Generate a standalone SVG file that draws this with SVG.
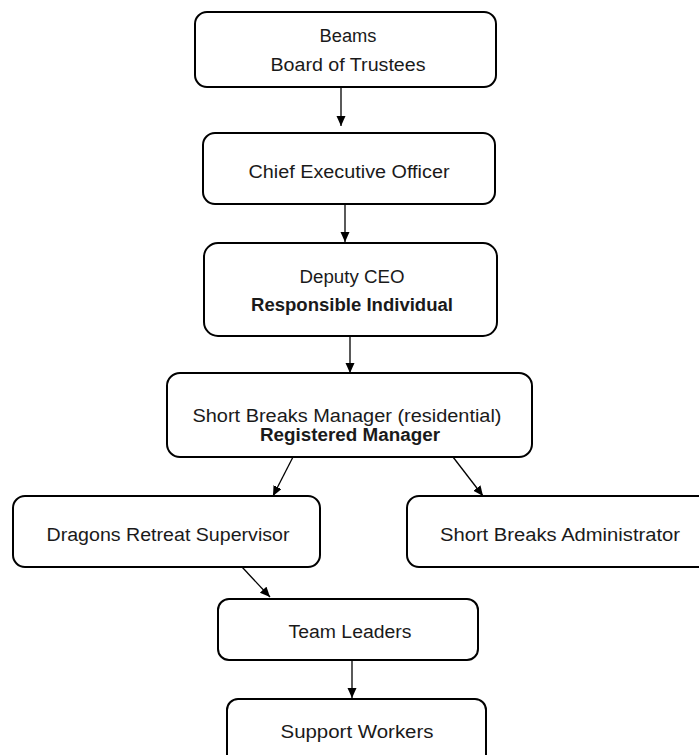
<svg xmlns="http://www.w3.org/2000/svg" width="699" height="755" viewBox="0 0 699 755">
<style>
.box{fill:#fff;stroke:#000;stroke-width:2}
.t{font-family:"Liberation Sans",Arial,sans-serif;font-size:18px;fill:#1a1a1a;text-anchor:middle}
.b{font-weight:bold}
.c{stroke:#000;stroke-width:1.3;fill:none;marker-end:url(#ah)}
</style>
<defs>
<marker id="ah" markerUnits="userSpaceOnUse" markerWidth="11" markerHeight="10" refX="10" refY="4.5" orient="auto">
<path d="M0,0 L10,4.5 L0,9 z" fill="#000"/>
</marker>
</defs>
<rect width="699" height="755" fill="#fff"/>
<g id="connectors">
<line class="c" x1="341" y1="87" x2="341" y2="126"/>
<line class="c" x1="345" y1="204" x2="345" y2="242"/>
<line class="c" x1="350" y1="336" x2="350" y2="373"/>
<line class="c" x1="293" y1="457" x2="273" y2="496"/>
<line class="c" x1="453" y1="457" x2="483" y2="496"/>
<line class="c" x1="242" y1="567" x2="270" y2="597"/>
<line class="c" x1="352" y1="660" x2="352" y2="698"/>
</g>
<g id="board">
<rect class="box" x="195" y="12" width="301" height="75" rx="12"/>
<text class="t" x="348" y="42" textLength="57" lengthAdjust="spacingAndGlyphs">Beams</text>
<text class="t" x="348" y="71" textLength="155" lengthAdjust="spacingAndGlyphs">Board of Trustees</text>
</g>
<g id="ceo">
<rect class="box" x="203" y="133" width="292" height="71" rx="12"/>
<text class="t" x="349" y="178" textLength="201" lengthAdjust="spacingAndGlyphs">Chief Executive  Officer</text>
</g>
<g id="deputy">
<rect class="box" x="204" y="243" width="293" height="93" rx="14"/>
<text class="t" x="352" y="283" textLength="105" lengthAdjust="spacingAndGlyphs">Deputy CEO</text>
<text class="t b" x="352" y="311" textLength="202" lengthAdjust="spacingAndGlyphs">Responsible Individual</text>
</g>
<g id="manager">
<rect class="box" x="167" y="373" width="365" height="84" rx="13"/>
<text class="t" x="347" y="422" textLength="309" lengthAdjust="spacingAndGlyphs">Short Breaks Manager (residential)</text>
<text class="t b" x="350" y="441" textLength="180" lengthAdjust="spacingAndGlyphs">Registered Manager</text>
</g>
<g id="supervisor">
<rect class="box" x="13" y="496" width="307" height="71" rx="12"/>
<text class="t" x="168" y="541" textLength="243" lengthAdjust="spacingAndGlyphs">Dragons Retreat  Supervisor</text>
</g>
<g id="administrator">
<rect class="box" x="407" y="496" width="306" height="71" rx="12"/>
<text class="t" x="560" y="541" textLength="240" lengthAdjust="spacingAndGlyphs">Short Breaks Administrator</text>
</g>
<g id="teamleaders">
<rect class="box" x="218" y="599" width="260" height="61" rx="11"/>
<text class="t" x="350" y="638" textLength="123" lengthAdjust="spacingAndGlyphs">Team Leaders</text>
</g>
<g id="supportworkers">
<rect class="box" x="227" y="699" width="259" height="80" rx="11"/>
<text class="t" x="357" y="738" textLength="153" lengthAdjust="spacingAndGlyphs">Support Workers</text>
</g>
</svg>
